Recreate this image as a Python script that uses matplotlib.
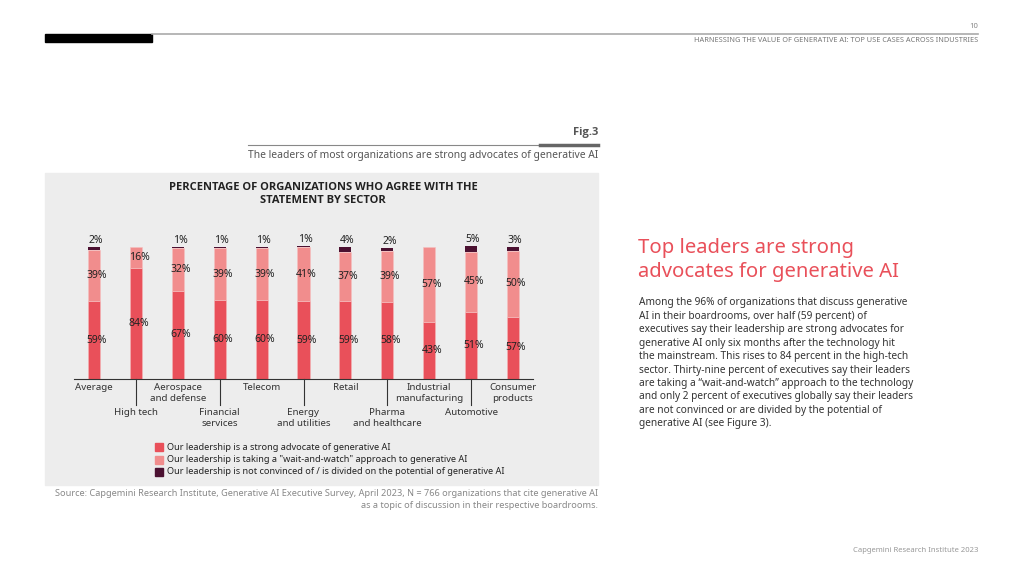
import matplotlib
matplotlib.use("Agg")
import matplotlib.pyplot as plt
from matplotlib.patches import Rectangle
from matplotlib.lines import Line2D
from matplotlib import font_manager

plt.rcParams['font.family'] = ['Noto Sans', 'DejaVu Sans']

# choose a family that has a real bold face
BOLD_FAMILY = 'DejaVu Sans'
for fam in ['Noto Sans', 'Open Sans', 'Lato', 'Roboto']:
    try:
        p = font_manager.findfont(font_manager.FontProperties(family=fam, weight='bold'),
                                  fallback_to_default=False)
        if 'bold' in p.lower():
            BOLD_FAMILY = fam
            break
    except Exception:
        pass

# ---------------- data ----------------
sectors_top = ["Average", "Aerospace\nand defense", "Telecom", "Retail",
               "Industrial\nmanufacturing", "Consumer\nproducts"]
sectors_bottom = ["High tech", "Financial\nservices", "Energy\nand utilities",
                  "Pharma\nand healthcare", "Automotive"]
sectors = ["Average", "High tech", "Aerospace and defense", "Financial services",
           "Telecom", "Energy and utilities", "Retail", "Pharma and healthcare",
           "Industrial manufacturing", "Automotive", "Consumer products"]
strong = [59, 84, 67, 60, 60, 59, 59, 58, 43, 51, 47]
strong_labels = ["59%", "84%", "67%", "60%", "60%", "59%", "59%", "58%", "43%", "51%", "57%"]
wait = [39, 16, 32, 39, 39, 41, 37, 39, 57, 45, 50]
notconv = [2, 0, 1, 1, 1, 1, 4, 2, 0, 5, 3]

legend_labels = ["Our leadership is a strong advocate of generative AI",
                 "Our leadership is taking a \"wait-and-watch\" approach to generative AI",
                 "Our leadership is not convinced of / is divided on the potential of generative AI"]

C_STRONG = "#E9505A"
C_WAIT = "#F18D8D"
C_DARK = "#4B1131"
RED_TEXT = "#E9505A"

W, H = 1024, 576
fig = plt.figure(figsize=(W / 100, H / 100), dpi=100)
fig.patch.set_facecolor("white")


def fx(x):
    return x / W


def fy(y):
    return 1 - y / H


def ftext(x, y, s, **kw):
    fig.text(fx(x), fy(y), s, **kw)


# header
fig.add_artist(Rectangle((fx(45), fy(42)), fx(152) - fx(45), (42 - 34) / H,
                         transform=fig.transFigure, color="black", zorder=2))
fig.add_artist(Line2D([fx(152), fx(978)], [fy(34), fy(34)], transform=fig.transFigure,
                      color="#aaaaaa", lw=1.2))
ftext(978, 26, "10", ha="right", va="center", fontsize=5.5, color="#888888")
ftext(978, 41, "HARNESSING THE VALUE OF GENERATIVE AI: TOP USE CASES ACROSS INDUSTRIES",
      ha="right", va="center", fontsize=5.3, color="#777777")

# figure label
ftext(598, 133, "Fig.3", ha="right", va="center", fontsize=8, fontweight="bold",
      family=BOLD_FAMILY, color="#555555")
fig.add_artist(Line2D([fx(248), fx(598)], [fy(145), fy(145)], transform=fig.transFigure,
                      color="#888888", lw=0.8))
fig.add_artist(Line2D([fx(540), fx(598)], [fy(144.5), fy(144.5)], transform=fig.transFigure,
                      color="#666666", lw=2.5))
ftext(248, 156, "The leaders of most organizations are strong advocates of generative AI",
      ha="left", va="center", fontsize=7.4, color="#555555")

# gray panel
fig.add_artist(Rectangle((fx(45), fy(485)), fx(598) - fx(45), (485 - 173) / H,
                         transform=fig.transFigure, color="#EDEDED", zorder=0))
ftext(323, 187, "PERCENTAGE OF ORGANIZATIONS WHO AGREE WITH THE", ha="center", va="center",
      fontsize=8, fontweight="bold", family=BOLD_FAMILY, color="#222222")
ftext(323, 201, "STATEMENT BY SECTOR", ha="center", va="center",
      fontsize=8, fontweight="bold", family=BOLD_FAMILY, color="#222222")

# bars axes
ax = fig.add_axes([fx(74), fy(379), fx(533) - fx(74), 145.2 / H])
ax.set_facecolor("none")
x = list(range(len(sectors)))
bw = 0.29
ax.bar(x, strong, width=bw, color=C_STRONG, edgecolor="#f6b5b5", linewidth=0.4)
ax.bar(x, wait, width=bw, bottom=strong, color=C_WAIT, edgecolor="#f6c0c0", linewidth=0.4)
bot2 = [a + b for a, b in zip(strong, wait)]
ax.bar(x, notconv, width=bw, bottom=bot2, color=C_DARK, linewidth=0)
ax.set_xlim(-0.48, 10.48)
ax.set_ylim(0, 110)
for s in ["top", "right", "left"]:
    ax.spines[s].set_visible(False)
ax.spines["bottom"].set_color("#333333")
ax.spines["bottom"].set_linewidth(0.8)
ax.set_xticks([])
ax.set_yticks([])

lab_kw = dict(ha="center", va="center", fontsize=7.5, color="#222222")
for i in x:
    ax.text(i + 0.07, strong[i] / 2, strong_labels[i], **lab_kw)
    ax.text(i + 0.07, strong[i] + wait[i] / 2, f"{wait[i]}%", **lab_kw)
    if notconv[i] > 0:
        ax.text(i + 0.05, bot2[i] + notconv[i] + 0.8, f"{notconv[i]}%",
                ha="center", va="bottom", fontsize=7.5, color="#222222")

# category labels
for k, lab in enumerate(sectors_top):
    i = 2 * k
    ftext(94 + 41.9 * i, 383, lab, ha="center", va="top", fontsize=7, color="#333333",
          linespacing=1.25)
for k, lab in enumerate(sectors_bottom):
    i = 2 * k + 1
    xp = 94 + 41.9 * i
    fig.add_artist(Line2D([fx(xp), fx(xp)], [fy(379), fy(405)], transform=fig.transFigure,
                          color="#333333", lw=0.8))
    ftext(xp, 408, lab, ha="center", va="top", fontsize=7, color="#333333", linespacing=1.25)

# legend
for k, (lab, c) in enumerate(zip(legend_labels, [C_STRONG, C_WAIT, C_DARK])):
    yc = 447 + 12.5 * k
    fig.add_artist(Rectangle((fx(155), fy(yc + 4)), 8 / W, 8 / H,
                             transform=fig.transFigure, color=c))
    ftext(167, yc, lab, ha="left", va="center", fontsize=6.6, color="#222222")

# source
ftext(598, 493, "Source: Capgemini Research Institute, Generative AI Executive Survey, April 2023, N = 766 organizations that cite generative AI",
      ha="right", va="center", fontsize=6.6, color="#888888")
ftext(598, 505, "as a topic of discussion in their respective boardrooms.",
      ha="right", va="center", fontsize=6.6, color="#888888")

# right text
ftext(638, 248, "Top leaders are strong", ha="left", va="center", fontsize=14.6, color=RED_TEXT)
ftext(638, 272, "advocates for generative AI", ha="left", va="center", fontsize=14.6, color=RED_TEXT)
body = ["Among the 96% of organizations that discuss generative",
        "AI in their boardrooms, over half (59 percent) of",
        "executives say their leadership are strong advocates for",
        "generative AI only six months after the technology hit",
        "the mainstream. This rises to 84 percent in the high-tech",
        "sector. Thirty-nine percent of executives say their leaders",
        "are taking a \u201cwait-and-watch\u201d approach to the technology",
        "and only 2 percent of executives globally say their leaders",
        "are not convinced or are divided by the potential of",
        "generative AI (see Figure 3)."]
for k, line in enumerate(body):
    ftext(639, 303 + 13.4 * k, line, ha="left", va="center", fontsize=7.3, color="#333333")

ftext(978, 551, "Capgemini Research Institute 2023", ha="right", va="center",
      fontsize=5.5, color="#999999")

fig.savefig("out.png", dpi=100, facecolor="white")
